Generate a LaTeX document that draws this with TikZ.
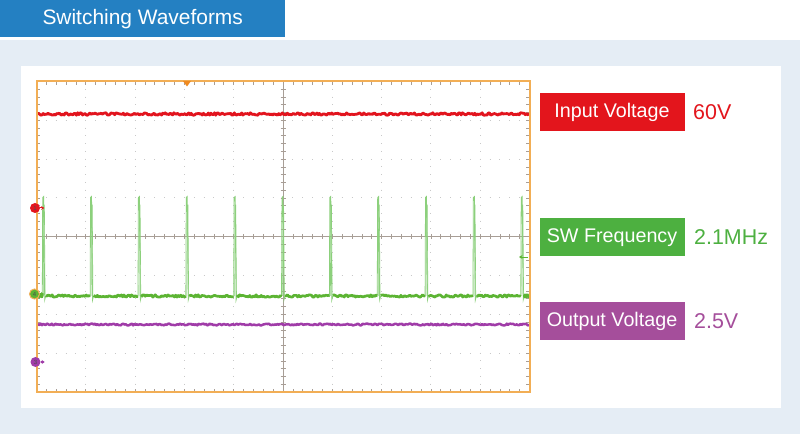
\documentclass[tikz,border=0pt]{standalone}
\usepackage{fontspec}
\setmainfont{Liberation Sans}
\usetikzlibrary{arrows.meta}
\definecolor{hdrblue}{HTML}{2480C2}
\definecolor{bgblue}{HTML}{E5EDF5}
\definecolor{frameor}{HTML}{F2AE55}
\definecolor{trigor}{HTML}{F08A20}
\definecolor{inred}{HTML}{E3151C}
\definecolor{swgreen}{HTML}{4DB040}
\definecolor{outpurple}{HTML}{A54E9B}
\definecolor{trred}{HTML}{E2141E}
\definecolor{trgreen}{HTML}{5CB433}
\definecolor{spkgreen}{HTML}{8CD07C}
\definecolor{trpurple}{HTML}{A03CA8}
\definecolor{gridgray}{HTML}{C8C8C8}
\definecolor{axisgray}{HTML}{A89E96}
\tikzset{
  lblbox/.style={minimum width=145bp, minimum height=38bp, inner sep=0pt, text=white, font=\fontsize{19.8}{20}\selectfont},
  valtext/.style={anchor=west, inner sep=0pt, font=\fontsize{21.5}{22}\selectfont},
  tickmark/.style={axisgray, line width=0.7bp},
  gdots/.style={gridgray, line width=1bp},
  spike/.style={spkgreen, line width=0.8bp},
  chmark/.style={circle, minimum size=10bp, inner sep=0pt, font=\fontsize{6}{6}\selectfont, text=black!70},
}
\begin{document}
\begin{tikzpicture}[x=1bp,y=-1bp]
\pgfmathsetseed{7}
\useasboundingbox (0,0) rectangle (800,434);
\fill[white] (0,0) rectangle (800,434);
\fill[bgblue] (0,40) rectangle (800,434);
\fill[white] (21,66) rectangle (781,408);
% header
\node[fill=hdrblue, minimum width=285bp, minimum height=37bp, anchor=north west, inner sep=0pt,
  text=white, font=\fontsize{21}{21}\selectfont] (hdr) at (0,0) {Switching Waveforms};
% grid dots
\foreach \k in {1,2,3,4,6,7,8,9}{
  \pgfmathsetmacro\xx{36.5+\k*49.3}
  \draw[gdots, dash pattern=on 1bp off 6.7625bp] (\xx,88.76) -- (\xx,392);
}
\foreach \k in {1,2,3,5,6,7}{
  \pgfmathsetmacro\yy{81.5+\k*38.8125}
  \draw[gdots, dash pattern=on 1bp off 8.86bp] (45.86,\yy) -- (529.5,\yy);
}
% centre axes
\draw[axisgray, line width=0.8bp] (36.5,236.75) -- (529.5,236.75);
\draw[axisgray, line width=0.8bp] (283,81.5) -- (283,392);
% ticks
\foreach \i in {1,...,49}{
  \pgfmathsetmacro\xx{36.5+\i*9.86}
  \draw[tickmark] (\xx,81.5) -- ++(0,3.5);
  \draw[tickmark] (\xx,392) -- ++(0,-3.5);
  \draw[tickmark] (\xx,234.25) -- ++(0,5);
}
\foreach \j in {1,...,39}{
  \pgfmathsetmacro\yy{81.5+\j*7.7625}
  \draw[tickmark] (36.5,\yy) -- ++(3.5,0);
  \draw[tickmark] (529.5,\yy) -- ++(-3.5,0);
  \draw[tickmark] (280.5,\yy) -- ++(5,0);
}
% red trace
\draw[trred, line width=2.8bp, line join=round] plot[domain=37:529, samples=400] (\x,{114+1.2*rand});
% purple trace
\draw[trpurple, line width=2.5bp, line join=round] plot[domain=37:529, samples=400] (\x,{324.5+0.9*rand});
% green spikes
\foreach \s in {43.5,91.35,139.2,187.05,234.9,282.75,330.6,378.45,426.3,474.15,522.0}{
  \draw[spike] (\s-1.2,297) -- (\s-0.8,197.5) -- (\s+0.2,196.5) -- (\s+1.2,300) -- (\s+2.2,296);
  \draw[spike, line width=0.6bp] (\s-0.2,296) -- (\s+0.2,205) -- (\s+0.9,205) -- (\s+1.6,298);
}
% green baseline
\foreach \a/\b in {37/42.2, 45.8/90.1, 93.6/137.9, 141.4/185.8, 189.3/233.6, 237.1/281.5, 285.0/329.3, 332.8/377.2, 380.7/425.0, 428.5/472.9, 476.4/520.7, 524.2/529}{
  \draw[trgreen, line width=2.7bp, line join=round] plot[domain=\a:\b, samples=36] (\x,{296+1.2*rand});
}
% frame
\draw[frameor, line width=2bp] (36.5,81.5) rectangle (529.5,392);
% trigger marker
\fill[trigor] (183,81) -- (191,81) -- (187,86.5) -- cycle;
% right green marker
\coordinate (gm) at (528,257);
\draw[trgreen, line width=0.9bp, -{Stealth[length=3.5bp,width=4bp]}] (gm) -- ++(-9,0);
% channel markers
\node[chmark, fill=inred] (m1) at (35,208) {1};
\draw[inred, line width=1bp, -{Stealth[length=3bp,width=4bp]}] (m1.east) -- ++(4,0);
\node[chmark, fill=trgreen, draw=frameor, line width=1bp] (m4) at (34.5,294) {4};
\draw[trgreen, line width=1bp, -{Stealth[length=3bp,width=4bp]}] (m4.east) -- ++(4,0);
\node[chmark, fill=trpurple] (m3) at (35.5,362) {3};
\draw[trpurple, line width=1bp, -{Stealth[length=3bp,width=4bp]}] (m3.east) -- ++(4,0);
% labels
\node[lblbox, fill=inred] (inlbl) at (612,112.5) {Input Voltage};
\node[valtext, text=inred] (inval) at (693,112.5) {60V};
\node[lblbox, fill=swgreen] (swlbl) at (612,237.5) {SW Frequency};
\node[valtext, text=swgreen] (swval) at (694,237.5) {2.1MHz};
\node[lblbox, fill=outpurple] (outlbl) at (612,321.5) {Output Voltage};
\node[valtext, text=outpurple] (outval) at (694,321.5) {2.5V};
\end{tikzpicture}
\end{document}
